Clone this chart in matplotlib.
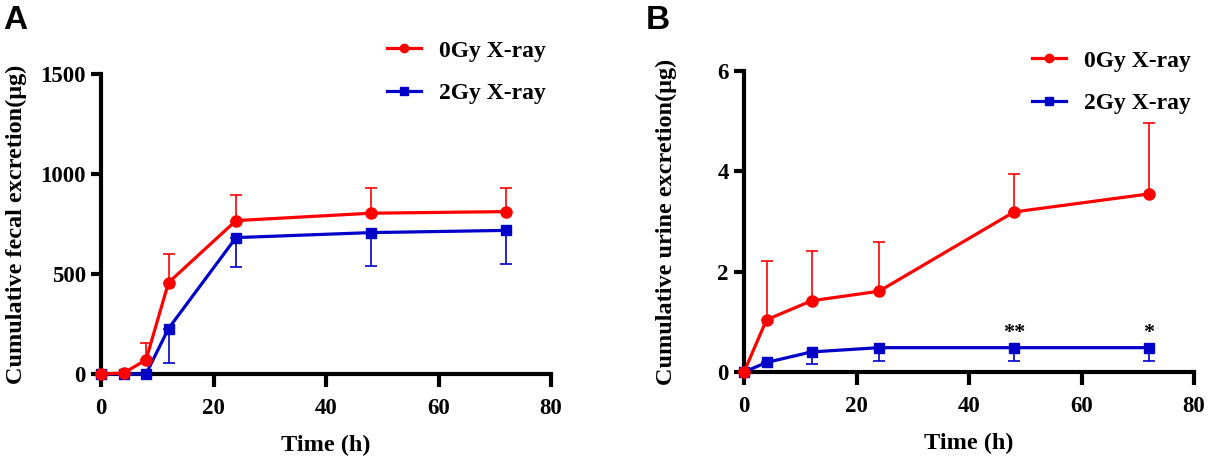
import matplotlib
matplotlib.use("Agg")
import matplotlib.pyplot as plt
import numpy as np

# ---- data ----
time_a = [0, 4, 8, 12, 24, 48, 72]
fecal_0gy = [0, 5, 70, 457, 767, 804, 812]
fecal_0gy_err = [0, 0, 87, 142, 127, 125, 120]
fecal_2gy = [0, 0, 0, 227, 682, 707, 718]
fecal_2gy_err = [0, 0, 0, 174, 147, 169, 166]

time_b = [0, 4, 12, 24, 48, 72]
urine_0gy = [0, 1.04, 1.42, 1.61, 3.19, 3.55]
urine_0gy_err = [0, 1.18, 1.00, 0.99, 0.76, 1.42]
urine_2gy = [0, 0.19, 0.40, 0.485, 0.485, 0.485]
urine_2gy_err = [0, 0, 0.25, 0.265, 0.275, 0.275]

sig_times = [48, 72]
sig_labels = ["**", "*"]

x_ticks = [0, 20, 40, 60, 80]
y_ticks_a = [0, 500, 1000, 1500]
y_ticks_b = [0, 2, 4, 6]

labels = ["0Gy X-ray", "2Gy X-ray"]
RED = "#FF0000"
BLUE = "#0000C8"

plt.rcParams['font.family'] = ['Liberation Serif', 'DejaVu Serif']
plt.rcParams['font.weight'] = 'bold'

fig = plt.figure(figsize=(12.10, 4.61), dpi=100)
W, H = 1210, 461

def axes_px(l, r, t, b):
    return fig.add_axes([l / W, 1 - b / H, (r - l) / W, (b - t) / H])

axA = axes_px(101, 551, 74, 374)
axB = axes_px(744, 1194, 71, 372)

def style(ax, yticks):
    for s in ['top', 'right']:
        ax.spines[s].set_visible(False)
    for s in ['left', 'bottom']:
        ax.spines[s].set_linewidth(3.0)
    ax.tick_params(axis='x', width=3.0, length=9, labelsize=16.5, pad=8)
    ax.tick_params(axis='y', width=3.0, length=7.5, labelsize=16.5, pad=3.5)
    ax.set_xticks(x_ticks)
    ax.set_yticks(yticks)
    ax.set_xlim(0, 80)
    ax.set_ylim(yticks[0], yticks[-1])
    for lab in ax.get_xticklabels() + ax.get_yticklabels():
        lab.set_fontweight('bold')

def draw(ax, t, y0, e0, y2, e2):
    z0 = np.zeros(len(t))
    ax.errorbar(t, y2, yerr=[e2, z0], fmt='none', ecolor=BLUE, elinewidth=1.2,
                capsize=4.5, capthick=1.2, clip_on=False, zorder=3)
    ax.plot(t, y2, color=BLUE, lw=2.3, marker='s', ms=7.5, label=labels[1],
            clip_on=False, zorder=4)
    ax.errorbar(t, y0, yerr=[z0, e0], fmt='none', ecolor=RED, elinewidth=1.2,
                capsize=4.5, capthick=1.2, clip_on=False, zorder=5)
    ax.plot(t, y0, color=RED, lw=2.3, marker='o', ms=8, label=labels[0],
            clip_on=False, zorder=6)

style(axA, y_ticks_a)
style(axB, y_ticks_b)
draw(axA, time_a, fecal_0gy, fecal_0gy_err, fecal_2gy, fecal_2gy_err)
draw(axB, time_b, urine_0gy, urine_0gy_err, urine_2gy, urine_2gy_err)

for tt, lab in zip(sig_times, sig_labels):
    i = time_b.index(tt)
    axB.text(tt, urine_2gy[i] + 0.1, lab, ha='center', va='bottom',
             fontsize=16, fontweight='bold')

axA.set_xlabel("Time (h)", fontsize=17.5, fontweight='bold', labelpad=12)
axB.set_xlabel("Time (h)", fontsize=17.5, fontweight='bold', labelpad=12)
axA.set_ylabel("Cumulative fecal excretion(μg)", fontsize=17.5, fontweight='bold')
axB.set_ylabel("Cumulative urine excretion(μg)", fontsize=17.5, fontweight='bold')
axA.yaxis.set_label_coords((27 - 101) / 450, 0.5)
axB.yaxis.set_label_coords((677 - 744) / 450, 0.5)

def legend(ax, x_px, y_px):
    h, l = ax.get_legend_handles_labels()
    order = [1, 0]
    ax.legend([h[i] for i in order], [l[i] for i in order],
              loc='upper left', bbox_to_anchor=(x_px / W, 1 - y_px / H),
              bbox_transform=fig.transFigure, frameon=False,
              prop={'family': ['Liberation Serif'], 'weight': 'bold', 'size': 17},
              handlelength=1.45, handletextpad=0.75, labelspacing=0.88,
              markerscale=0.75, borderpad=0, borderaxespad=0)

legend(axA, 387, 40)
legend(axB, 1032, 50)

fig.text(3 / W, 1 - 5 / H, "A", fontsize=24, fontweight='bold',
         family=['Liberation Sans'], va='top', ha='left')
fig.text(646 / W, 1 - 5 / H, "B", fontsize=24, fontweight='bold',
         family=['Liberation Sans'], va='top', ha='left')

fig.savefig("out.png", dpi=100)
